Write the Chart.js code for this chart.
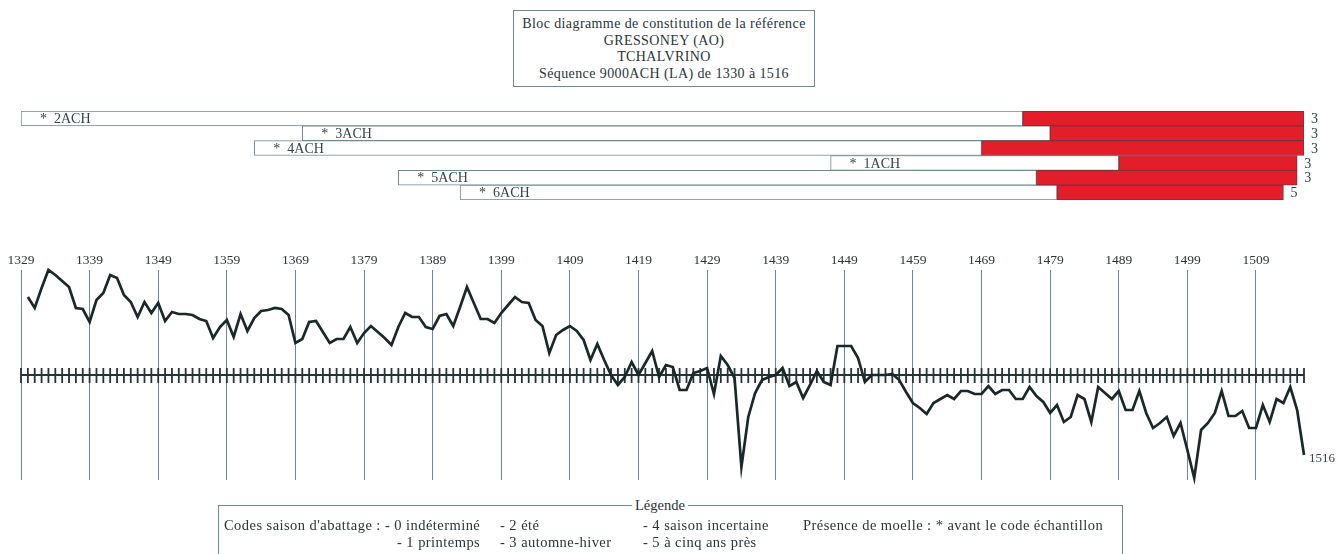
<!DOCTYPE html>
<html>
<head>
<meta charset="utf-8">
<script src="https://cdn.jsdelivr.net/npm/chart.js@4"></script>
<style>
  html, body { margin: 0; padding: 0; background: #fff; }
  body { width: 1338px; height: 554px; position: relative; overflow: hidden;
         font-family: "Liberation Serif", "DejaVu Serif", serif; color: #2b3438; }
  canvas { position: absolute; left: 0; top: 0; }
  .titre { position: absolute; left: 513px; top: 10px; width: 302px; height: 77px;
           box-sizing: border-box; border: 1px solid #6f8896; text-align: center;
           font-size: 14px; letter-spacing: 0.4px; line-height: 16.5px; padding-top: 5px; }
  .legende { position: absolute; left: 218px; top: 505px; width: 905px; height: 70px;
             box-sizing: border-box; border: 1px solid #6f8896; font-size: 14.5px;
             letter-spacing: 0.45px; }
  .legende span { position: absolute; white-space: nowrap; line-height: 16px; }
</style>
</head>
<body>
<div class="titre">
  Bloc diagramme de constitution de la référence<br>
  GRESSONEY (AO)<br>
  TCHALVRINO<br>
  Séquence 9000ACH (LA) de 1330 à 1516
</div>

<canvas id="barres" width="1338" height="554"></canvas>
<canvas id="courbe" width="1338" height="554"></canvas>

<div class="legende">
  <span style="left:413px; top:-9px; background:#fff; padding:0 3px; letter-spacing:0;">Légende</span>
  <span style="left:5px; top:11px;">Codes saison d'abattage : - 0 indéterminé</span>
  <span style="left:178px; top:28px;">- 1 printemps</span>
  <span style="left:281px; top:11px;">- 2 été</span>
  <span style="left:281px; top:28px;">- 3 automne-hiver</span>
  <span style="left:424px; top:11px;">- 4 saison incertaine</span>
  <span style="left:424px; top:28px;">- 5 à cinq ans près</span>
  <span style="left:584px; top:11px;">Présence de moelle : * avant le code échantillon</span>
</div>

<script>
// Echantillons (de haut en bas)
const echantillons = ['2ACH', '3ACH', '4ACH', '1ACH', '5ACH', '6ACH'];
const debuts = [1329, 1370, 1363, 1447, 1384, 1393];
const debutsAubier = [1475, 1479, 1469, 1489, 1477, 1480];
const fins = [1516, 1516, 1516, 1515, 1515, 1513];
const codesSaison = ['3', '3', '3', '3', '3', '5'];
const moelle = [true, true, true, true, true, true];

// Courbe moyenne de la sequence 9000ACH
const premiereAnnee = 1330;
const indices = [
  78, 67, 87, 105, 100, 94, 88, 67, 66, 53,
  75, 82, 100, 97, 80, 73, 58, 73, 62, 72,
  54, 63, 61, 61, 60, 56, 54, 37, 48, 55,
  38, 61, 44, 57, 64, 65, 67, 66, 60, 32,
  36, 53, 54, 43, 32, 36, 36, 48, 32, 42,
  49, 43, 37, 30, 48, 62, 58, 58, 48, 46,
  59, 61, 49, 68, 88, 72, 56, 56, 52, 62,
  70, 78, 73, 72, 55, 49, 22, 40, 45, 49,
  44, 35, 15, 31, 15, 0, -10, -2, 13, 0,
  12, 24, -2, 10, 8, -15, -15, 2, 4, 7,
  -19, 19, 10, -3, -92, -42, -18, -5, -2, 0,
  7, -11, -7, -23, -10, 4, -7, -10, 29, 29,
  29, 17, -7, 0, 0, 0, 1, -5, -17, -28,
  -33, -39, -28, -24, -20, -24, -16, -16, -19, -19,
  -11, -19, -15, -15, -24, -24, -12, -21, -27, -38,
  -30, -47, -42, -20, -24, -47, -12, -18, -24, -16,
  -35, -35, -16, -38, -53, -48, -42, -61, -48, -75,
  -103, -55, -48, -38, -16, -41, -41, -36, -53, -53,
  -30, -47, -24, -28, -12, -35, -80
];

// Graduations
const anneesEtiquettes = [1329, 1339, 1349, 1359, 1369, 1379, 1389, 1399, 1409, 1419,
  1429, 1439, 1449, 1459, 1469, 1479, 1489, 1499, 1509];
const anneeMin = 1329;
const anneeMax = 1516;

const police = '"Liberation Serif", "DejaVu Serif", serif';
const rouge = '#e31e2a';
const grisBleu = '#6f8896';

// Noms et codes autour des barres
const etiquettesBarres = {
  id: 'etiquettesBarres',
  afterDatasetsDraw(chart) {
    const ctx = chart.ctx;
    const aubier = chart.getDatasetMeta(0).data;
    const bois = chart.getDatasetMeta(1).data;
    ctx.save();
    ctx.font = '14px ' + police;
    ctx.fillStyle = '#33444e';
    ctx.textBaseline = 'middle';
    ctx.textAlign = 'left';
    bois.forEach((bar, i) => {
      const nom = (moelle[i] ? '*  ' : '') + echantillons[i];
      ctx.fillText(nom, bar.base + 19, bar.y + 1);
    });
    aubier.forEach((bar, i) => {
      ctx.fillText(codesSaison[i], bar.x + 7, bar.y + 1);
    });
    ctx.restore();
  }
};

new Chart(document.getElementById('barres').getContext('2d'), {
  type: 'bar',
  data: {
    labels: echantillons,
    datasets: [
      {
        label: 'aubier',
        data: debutsAubier.map((d, i) => [d, fins[i]]),
        backgroundColor: rouge,
        borderColor: '#7d3038',
        borderWidth: 1,
        borderSkipped: false,
        grouped: false
      },
      {
        label: 'bois',
        data: debuts.map((d, i) => [d, debutsAubier[i]]),
        backgroundColor: '#fff',
        borderColor: grisBleu,
        borderWidth: 1,
        borderSkipped: false,
        grouped: false
      }
    ]
  },
  options: {
    indexAxis: 'y',
    responsive: false,
    animation: false,
    categoryPercentage: 1,
    barPercentage: 1,
    layout: { padding: { left: 21, right: 34, top: 111, bottom: 354 } },
    plugins: { legend: { display: false }, tooltip: { enabled: false } },
    scales: {
      x: { type: 'linear', min: anneeMin, max: anneeMax, display: false },
      y: { display: false }
    }
  },
  plugins: [etiquettesBarres]
});

// Ligne de base avec un trait par annee + etiquette finale
const ligneBase = {
  id: 'ligneBase',
  beforeDatasetsDraw(chart) {
    const ctx = chart.ctx;
    const x = chart.scales.x;
    const y0 = chart.scales.y.getPixelForValue(0);
    ctx.save();
    ctx.strokeStyle = '#24343a';
    ctx.lineWidth = 2;
    ctx.beginPath();
    ctx.moveTo(x.getPixelForValue(anneeMin), y0);
    ctx.lineTo(x.getPixelForValue(anneeMax), y0);
    ctx.stroke();
    ctx.lineWidth = 1.8;
    ctx.beginPath();
    for (let a = anneeMin; a <= anneeMax; a++) {
      const px = x.getPixelForValue(a);
      ctx.moveTo(px, y0 - 7);
      ctx.lineTo(px, y0 + 8);
    }
    ctx.stroke();
    ctx.restore();
  },
  afterDatasetsDraw(chart) {
    const pts = chart.getDatasetMeta(0).data;
    const last = pts[pts.length - 1];
    const ctx = chart.ctx;
    ctx.save();
    ctx.font = '13px ' + police;
    ctx.fillStyle = '#33444e';
    ctx.textBaseline = 'middle';
    ctx.fillText(String(premiereAnnee + indices.length - 1), last.x + 5, last.y + 4);
    ctx.restore();
  }
};

new Chart(document.getElementById('courbe').getContext('2d'), {
  type: 'line',
  data: {
    datasets: [{
      data: indices.map((v, i) => ({ x: premiereAnnee + i, y: v })),
      borderColor: '#1a2829',
      borderWidth: 2.7,
      pointRadius: 0,
      tension: 0,
      clip: false
    }]
  },
  options: {
    responsive: false,
    animation: false,
    layout: { padding: { left: 21, right: 34, top: 230, bottom: 74 } },
    plugins: { legend: { display: false }, tooltip: { enabled: false } },
    scales: {
      x: {
        type: 'linear',
        position: 'top',
        min: anneeMin,
        max: anneeMax,
        afterBuildTicks: (axis) => { axis.ticks = anneesEtiquettes.map(v => ({ value: v })); },
        afterFit: (axis) => { axis.height = 40; },
        grid: { color: grisBleu, lineWidth: 1, drawTicks: false },
        border: { display: false },
        ticks: {
          autoSkip: false,
          maxRotation: 0,
          padding: 1,
          color: '#2b3438',
          font: { family: police, size: 13.5 },
          callback: (v) => String(v)
        }
      },
      y: { min: -105, max: 105, display: false }
    }
  },
  plugins: [ligneBase]
});
</script>
</body>
</html>
